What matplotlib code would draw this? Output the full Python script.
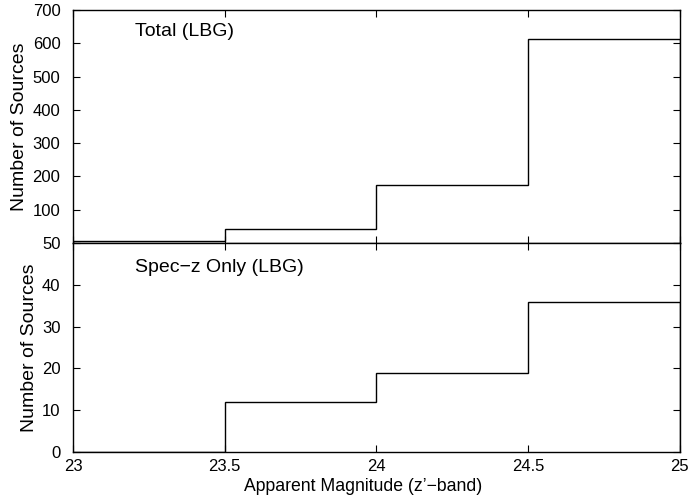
import numpy as np
import matplotlib.pyplot as plt

plt.rcParams['font.family'] = ['Liberation Sans', 'DejaVu Sans']
plt.rcParams['font.size'] = 12

# bin edges in z'-band magnitude and counts per bin
edges = [23.0, 23.5, 24.0, 24.5, 25.0]
total_counts = [5, 43, 173, 614]
specz_counts = [0, 12, 19, 36]
x_ticks = [23, 23.5, 24, 24.5, 25]
x_labels = ['23', '23.5', '24', '24.5', '25']

fig = plt.figure(figsize=(6.95, 4.97), dpi=100)
ax1 = fig.add_axes([0.105, 0.511, 0.873, 0.469])
ax2 = fig.add_axes([0.105, 0.0905, 0.873, 0.4205], sharex=ax1)

ax1.stairs(total_counts, edges, color='black', lw=1.0)
ax2.stairs(specz_counts, edges, color='black', lw=1.0)

ax1.set_xlim(23, 25)
ax1.set_ylim(0, 700)
ax1.set_yticks(np.arange(0, 701, 100))
ax1.set_yticklabels([''] + [str(v) for v in range(100, 701, 100)])
ax2.set_ylim(0, 50)
ax2.set_yticks(np.arange(0, 51, 10))
ax2.set_xticks(x_ticks)
ax2.set_xticklabels(x_labels)
plt.setp(ax1.get_xticklabels(), visible=False)

for ax in (ax1, ax2):
    ax.tick_params(direction='in', top=True, right=True, length=5, width=0.8)
    ax.tick_params(axis='y', pad=9)
    for sp in ax.spines.values():
        sp.set_linewidth(1.0)
    ax.set_ylabel('Number of Sources', fontsize=14, labelpad=3)

ax2.tick_params(axis='x', pad=5)

ax1.text(23.204, 634, 'Total (LBG)', fontsize=14, va='center')
ax2.text(23.204, 44.1, 'Spec\u2212z Only (LBG)', fontsize=14, va='center')
ax2.set_xlabel('Apparent Magnitude (z\u2019\u2212band)', fontsize=12.7)
ax2.xaxis.set_label_coords(0.479, -0.124)

fig.savefig('out.png', dpi=100)
